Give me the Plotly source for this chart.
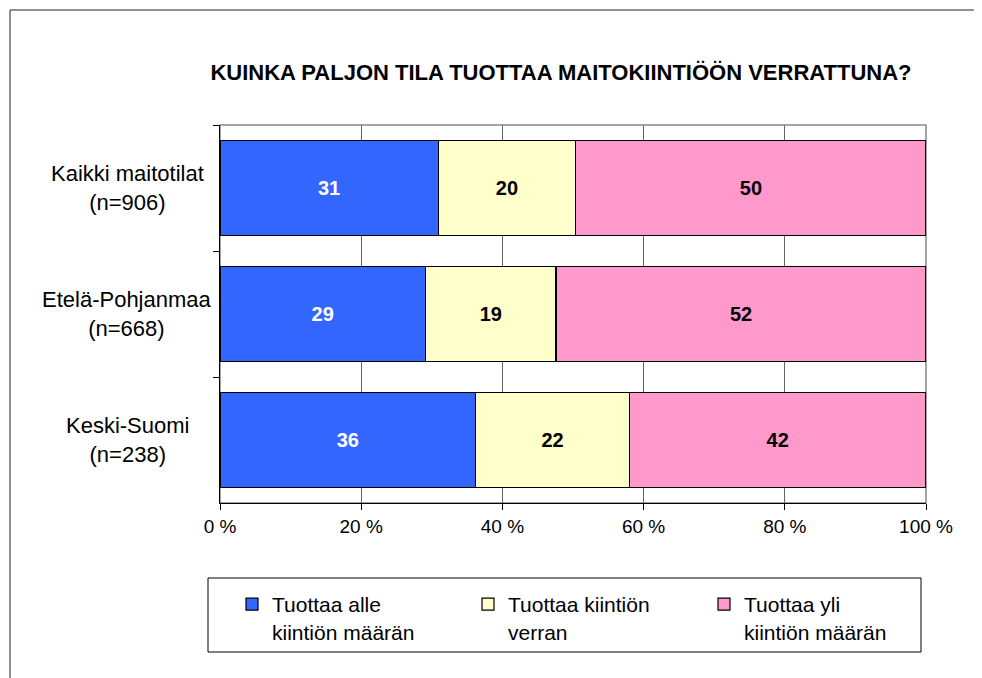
import plotly.graph_objects as go

categories = ["Kaikki maitotilat<br>(n=906)", "Etelä-Pohjanmaa<br>(n=668)", "Keski-Suomi<br>(n=238)"]
series_names = ["Tuottaa alle<br>kiintiön määrän", "Tuottaa kiintiön<br>verran", "Tuottaa yli<br>kiintiön määrän"]
alle = [30.9, 29.1, 36.2]
verran = [19.5, 18.5, 21.8]
yli = [49.6, 52.4, 42.0]
alle_labels = ["31", "29", "36"]
verran_labels = ["20", "19", "22"]
yli_labels = ["50", "52", "42"]
x_ticks = [0, 20, 40, 60, 80, 100]
x_tick_labels = ["0 %", "20 %", "40 %", "60 %", "80 %", "100 %"]

colors = ["#3366ff", "#ffffcc", "#ff99cc"]
text_colors = ["white", "black", "black"]
FONT = "Liberation Sans, Arial, sans-serif"

# the page body adds an 8px margin, so work in screen pixels and shift
OFF = 8
W, H = 974, 670
L, R, T, B = 212, 56, 117, 175
PW, PH = W - L - R, H - T - B


def px_x(sx):
    return (sx - OFF - L) / PW


def px_y(sy):
    return (H - B - (sy - OFF)) / PH


fig = go.Figure()
for name, vals, labels, col, tcol in zip(
    series_names,
    [alle, verran, yli],
    [alle_labels, verran_labels, yli_labels],
    colors,
    text_colors,
):
    fig.add_trace(
        go.Bar(
            y=categories,
            x=vals,
            name=name,
            orientation="h",
            marker=dict(color=col, line=dict(color="black", width=1.2)),
            text=labels,
            textposition="inside",
            insidetextanchor="middle",
            textfont=dict(family=FONT, size=20, color=tcol, weight="bold"),
            hoverinfo="skip",
        )
    )

# category labels, centred like in the original
for cat in categories:
    fig.add_annotation(
        x=px_x(127), xref="paper", y=cat, yref="y",
        text=cat, showarrow=False, align="center",
        xanchor="center", yanchor="middle",
        font=dict(family=FONT, size=22, color="black"),
    )

# outer frame and plot-area border
fig.add_shape(type="rect", xref="paper", yref="paper",
              x0=px_x(10), x1=px_x(1010), y0=px_y(720), y1=px_y(10),
              line=dict(color="#222", width=1), layer="below")
fig.add_shape(type="rect", xref="paper", yref="paper",
              x0=0, x1=1, y0=0, y1=1,
              line=dict(color="#888", width=1.5), layer="below")
# legend box
fig.add_shape(type="rect", xref="paper", yref="paper",
              x0=px_x(208), x1=px_x(921), y0=px_y(652), y1=px_y(578),
              line=dict(color="black", width=1))

fig.update_layout(
    width=W, height=H,
    margin=dict(l=L, r=R, t=T, b=B),
    paper_bgcolor="white", plot_bgcolor="white",
    barmode="stack", bargap=0.25,
    font=dict(family=FONT, color="black"),
    title=dict(
        text="<b>KUINKA PALJON TILA TUOTTAA MAITOKIINTIÖÖN VERRATTUNA?</b>",
        x=px_x(561), xref="paper", xanchor="center",
        y=1 - (72 - OFF) / H, yref="container", yanchor="middle",
        font=dict(family=FONT, size=22, color="black"),
    ),
    xaxis=dict(
        range=[0, 100], tickvals=x_ticks, ticktext=x_tick_labels,
        showgrid=True, gridcolor="#666", gridwidth=1,
        showline=True, linecolor="black", linewidth=1.2,
        ticks="outside", ticklen=6, tickcolor="black",
        tickfont=dict(family=FONT, size=19),
        zeroline=False, fixedrange=True,
    ),
    yaxis=dict(
        autorange="reversed", showticklabels=False,
        showline=True, linecolor="black", linewidth=1.2,
        ticks="outside", ticklen=6, tickcolor="black", tickson="boundaries",
        showgrid=False, fixedrange=True,
    ),
    legend=dict(
        orientation="h", x=px_x(232), xanchor="left",
        y=px_y(584), yanchor="top", valign="top",
        entrywidth=191, entrywidthmode="pixels",
        bgcolor="rgba(0,0,0,0)", borderwidth=0,
        font=dict(family=FONT, size=21, color="black"),
        traceorder="normal",
    ),
)

fig.write_html("out.html")
